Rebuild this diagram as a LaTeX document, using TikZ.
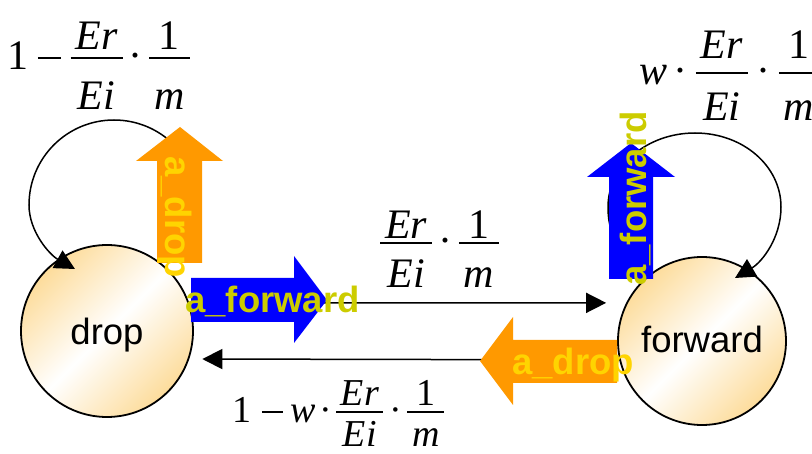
\documentclass[tikz,border=0pt]{standalone}
\usepackage{fontspec}
\setmainfont{Liberation Serif}
\setsansfont{Liberation Sans}
\usetikzlibrary{arrows.meta}
\definecolor{barorange}{RGB}{255,153,0}
\definecolor{barblue}{RGB}{0,0,255}
\definecolor{goldtxt}{RGB}{255,212,0}
\definecolor{olivetxt}{RGB}{204,204,0}
\definecolor{circorange}{RGB}{253,220,155}
\newdimen\fracw
% \myfrac{numerator raise}{denominator lower}{numerator}{denominator}
\newcommand\myfrac[4]{%
  \setbox0\hbox{\kern.12em#3\kern.12em}%
  \setbox2\hbox{\kern.12em#4\kern.12em}%
  \fracw=\wd0 \ifdim\wd2>\fracw \fracw=\wd2 \fi
  \hbox to\fracw{%
    \rlap{\hbox to\fracw{\hss\raise#1\box0\hss}}%
    \rlap{\raise.27em\hbox{\vrule height.04em depth0pt width\fracw}}%
    \hbox to\fracw{\hss\lower#2\box2\hss}}}
\newcommand\mminus{\kern.03em\rule[.26em]{.55em}{.045em}\kern.03em}
\tikzset{
  state/.style={circle, draw=black, line width=1.8pt, inner sep=0pt, outer sep=0pt,
    top color=circorange, bottom color=circorange, middle color=white, shading angle=45,
    font=\fontsize{36.5}{40}\selectfont\sffamily, text depth=0pt},
  trans/.style={line width=1.5pt, -{Triangle[length=20pt,width=20pt]}},
  actlbl/.style={font=\fontsize{36.5}{40}\selectfont\sffamily\bfseries, inner sep=0pt, anchor=base},
  mathlbl/.style={inner sep=0pt, anchor=base west},
}
\begin{document}
\begin{tikzpicture}[x=1pt,y=-1pt]
\useasboundingbox (0,0) rectangle (812,454);
\clip (0,0) rectangle (812,454);
% states
\node[state, minimum size=172pt, text height=28pt] (drop) at (107,331) {drop};
\node[state, minimum size=168pt, text height=24pt] (forward) at (702,341) {forward};
% self loops
\coordinate (dropLoopStart) at (199,258);
\coordinate (dropLoopEnd) at (75,269);
\coordinate (fwdLoopStart) at (645,272);
\coordinate (fwdLoopEnd) at (735,278);
\draw[trans] (dropLoopStart) -- (199,205) .. controls (199,158) and (161,120) .. (114,120)
  .. controls (67,120) and (29,158) .. (29,205) .. controls (29,232) and (50,255) .. (dropLoopEnd);
\draw[trans] (fwdLoopStart) .. controls (615,250) and (608,230) .. (608,207)
  .. controls (608,166) and (647,133) .. (695,133) .. controls (743,133) and (781,166) .. (781,207)
  .. controls (781,238) and (762,262) .. (fwdLoopEnd);
% transitions
\draw[trans, shorten >=21pt] (drop.19) -- (forward.153);
\draw[trans, shorten >=14pt] (forward.193) -- (drop.-19.7);
% block arrows
\fill[barorange] (157,263) -- (157,161) -- (136,161) -- (180,127) -- (223,161) -- (202,161) -- (202,263) -- cycle;
\fill[barblue] (191,278) -- (294,278) -- (294,256) -- (327,300) -- (294,343) -- (294,322) -- (191,322) -- cycle;
\fill[barblue] (609,279) -- (609,177) -- (587,177) -- (631,143) -- (675,177) -- (653,177) -- (653,279) -- cycle;
\fill[barorange] (617,340) -- (513,340) -- (513,317) -- (480,361) -- (513,405) -- (513,383) -- (617,383) -- cycle;
% action labels
\node[actlbl, text=olivetxt] (actFwdA) at (272.5,313) {a\_forward};
\node[actlbl, text=goldtxt] (actDropB) at (573,375) {a\_drop};
\node[actlbl, text=goldtxt, rotate=-90] (actDropA) at (165,217) {a\_drop};
\node[actlbl, text=olivetxt, rotate=90] (actFwdB) at (646,198.5) {a\_forward};
% probability labels
\node[mathlbl, font=\fontsize{42}{42}\selectfont] (pDropDrop) at (7,70)
  {1\kern.2em\mminus\kern.2em\myfrac{.48em}{.93em}{\itshape Er}{\itshape Ei}\kern.15em·\kern.15em\myfrac{.48em}{.93em}{1}{\itshape m}};
\node[mathlbl, font=\fontsize{42}{42}\selectfont] (pFwdFwd) at (639,85)
  {{\itshape w}\kern.15em·\kern.2em\myfrac{.62em}{.85em}{\itshape Er}{\itshape Ei}\kern.2em·\kern.2em\myfrac{.62em}{.85em}{1}{\itshape m}};
\node[mathlbl, font=\fontsize{42}{42}\selectfont] (pDropFwd) at (380,255)
  {\myfrac{.4em}{.78em}{\itshape Er}{\itshape Ei}\kern.15em·\kern.15em\myfrac{.4em}{.78em}{1}{\itshape m}};
\node[mathlbl, font=\fontsize{38}{38}\selectfont] (pFwdDrop) at (232,423)
  {1\kern.25em\mminus\kern.18em{\itshape w}\kern.1em·\kern.1em\myfrac{.45em}{.63em}{\itshape Er}{\itshape Ei}\kern.15em·\kern.15em\myfrac{.45em}{.63em}{1}{\itshape m}};
\end{tikzpicture}
\end{document}
